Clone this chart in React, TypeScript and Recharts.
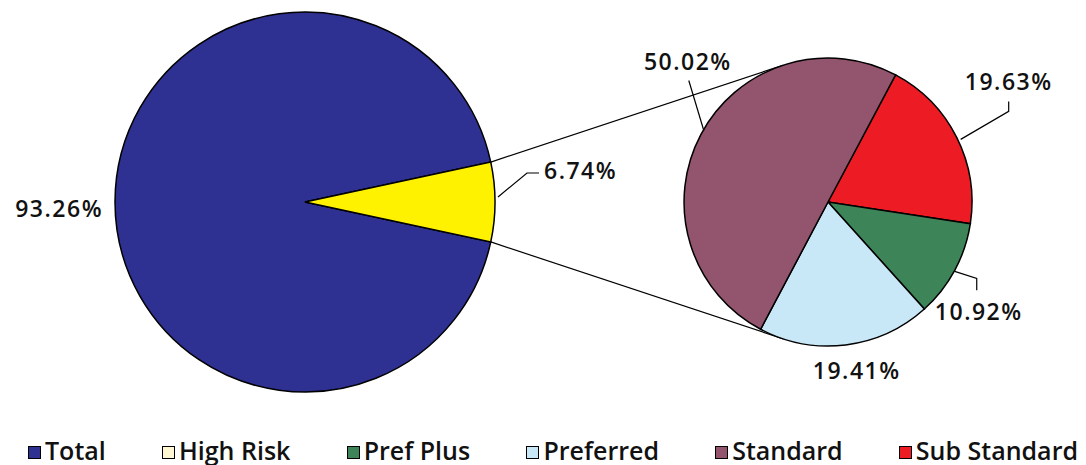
import { PieChart, Pie, Cell, Legend, Customized } from 'recharts';

// overall split (left pie)
const overallNames = ['Total', 'Other'];
const overallShares = [93.26, 6.74];

// breakdown of the small slice (right pie), clockwise from the top boundary
const breakdownNames = ['Sub Standard', 'Pref Plus', 'Preferred', 'Standard'];
const breakdownShares = [19.63, 10.92, 19.41, 50.02];

// legend entries
const legendNames = ['Total', 'High Risk', 'Pref Plus', 'Preferred', 'Standard', 'Sub Standard'];

const COLORS: Record<string, string> = {
  Total: '#2E3192',
  Other: '#FFF200',
  'High Risk': '#FFF8D2',
  'Pref Plus': '#3E8459',
  Preferred: '#C8E8F8',
  Standard: '#93546E',
  'Sub Standard': '#ED1C24',
};

const overallData = overallNames.map((name, i) => ({ name, value: overallShares[i] }));
const breakdownData = breakdownNames.map((name, i) => ({ name, value: breakdownShares[i] }));

const W = 1070;
const H = 457;
const LEFT = { cx: 297, cy: 194, r: 190 };
const RIGHT = { cx: 820, cy: 194, r: 144 };

// the small slice is centred on 3 o'clock
const otherAngle = (overallShares[1] / 100) * 360;
const leftStart = -otherAngle / 2;
const rightStart = 62;
const RAD = Math.PI / 180;

// label placement relative to the slice's outer edge point
const labelLayout: Record<string, { leader?: number[][]; text: number[]; anchor: string }> = {
  Total: { text: [-12, 6], anchor: 'end' },
  Other: { leader: [[3, -5], [32, -29], [44, -29]], text: [49, -32], anchor: 'start' },
  Standard: { leader: [[3, -4], [-12, -54]], text: [-13, -74], anchor: 'middle' },
  'Sub Standard': { leader: [[4, 2], [52, -26], [52, -36]], text: [52, -56], anchor: 'middle' },
  'Pref Plus': { leader: [[0, 1], [22, 8], [22, 20]], text: [24, 41], anchor: 'middle' },
  Preferred: { text: [11, 25], anchor: 'middle' },
};

const FONT = '"Open Sans", "Liberation Sans", sans-serif';

const renderLabel = (props: any) => {
  const { cx, cy, midAngle, outerRadius, value } = props;
  const name = props.name ?? props.payload?.name;
  const spec = labelLayout[name];
  if (!spec) return null;
  const ex = cx + outerRadius * Math.cos(-midAngle * RAD);
  const ey = cy + outerRadius * Math.sin(-midAngle * RAD);
  return (
    <g>
      {spec.leader && (
        <polyline
          points={spec.leader.map(([dx, dy]) => `${ex + dx},${ey + dy}`).join(' ')}
          fill="none"
          stroke="#000"
          strokeWidth={1.2}
        />
      )}
      <text
        x={ex + spec.text[0]}
        y={ey + spec.text[1]}
        textAnchor={spec.anchor as any}
        dominantBaseline="central"
        fill="#111"
        fontFamily={FONT}
        fontSize={23}
        fontWeight={600}
        letterSpacing={1.5}
      >
        {Number(value).toFixed(2)}%
      </text>
    </g>
  );
};

const Connectors = () => {
  const a = (otherAngle / 2) * RAD;
  const b = (180 - 72) * RAD;
  const lines = [1, -1].map((s) => ({
    x1: LEFT.cx + LEFT.r * Math.cos(a),
    y1: LEFT.cy - s * LEFT.r * Math.sin(a),
    x2: RIGHT.cx + RIGHT.r * Math.cos(b),
    y2: RIGHT.cy - s * RIGHT.r * Math.sin(b),
  }));
  return (
    <g>
      {lines.map((l, i) => (
        <line key={i} {...l} stroke="#000" strokeWidth={1.2} />
      ))}
    </g>
  );
};

const LegendContent = () => (
  <div
    style={{
      display: 'flex',
      justifyContent: 'space-between',
      alignItems: 'center',
      fontFamily: FONT,
      fontSize: 25,
      lineHeight: '25px',
      fontWeight: 600,
      color: '#111',
    }}
  >
    {legendNames.map((name) => (
      <div key={name} style={{ display: 'flex', alignItems: 'center' }}>
        <span
          style={{
            display: 'inline-block',
            width: 11,
            height: 11,
            background: COLORS[name],
            border: '1.5px solid #000',
            marginRight: 4,
            marginTop: 4,
          }}
        />
        <span>{name}</span>
      </div>
    ))}
  </div>
);

export default function App() {
  return (
    <div style={{ width: W, height: H, background: '#fff' }}>
      <PieChart width={W} height={H} margin={{ top: 0, right: 0, bottom: 0, left: 0 }}>
        <Customized component={Connectors} />
        <Pie
          data={overallData}
          dataKey="value"
          nameKey="name"
          cx={LEFT.cx}
          cy={LEFT.cy}
          outerRadius={LEFT.r}
          startAngle={leftStart}
          endAngle={leftStart - 360}
          stroke="#000"
          strokeWidth={1.5}
          label={renderLabel}
          labelLine={false}
          isAnimationActive={false}
        >
          {overallData.map((d) => (
            <Cell key={d.name} fill={COLORS[d.name]} />
          ))}
        </Pie>
        <Pie
          data={breakdownData}
          dataKey="value"
          nameKey="name"
          cx={RIGHT.cx}
          cy={RIGHT.cy}
          outerRadius={RIGHT.r}
          startAngle={rightStart}
          endAngle={rightStart - 360}
          stroke="#000"
          strokeWidth={1.5}
          label={renderLabel}
          labelLine={false}
          isAnimationActive={false}
        >
          {breakdownData.map((d) => (
            <Cell key={d.name} fill={COLORS[d.name]} />
          ))}
        </Pie>
        <Legend
          content={LegendContent}
          wrapperStyle={{ left: 20, width: 1050, top: 430, bottom: 'auto' }}
        />
      </PieChart>
    </div>
  );
}
